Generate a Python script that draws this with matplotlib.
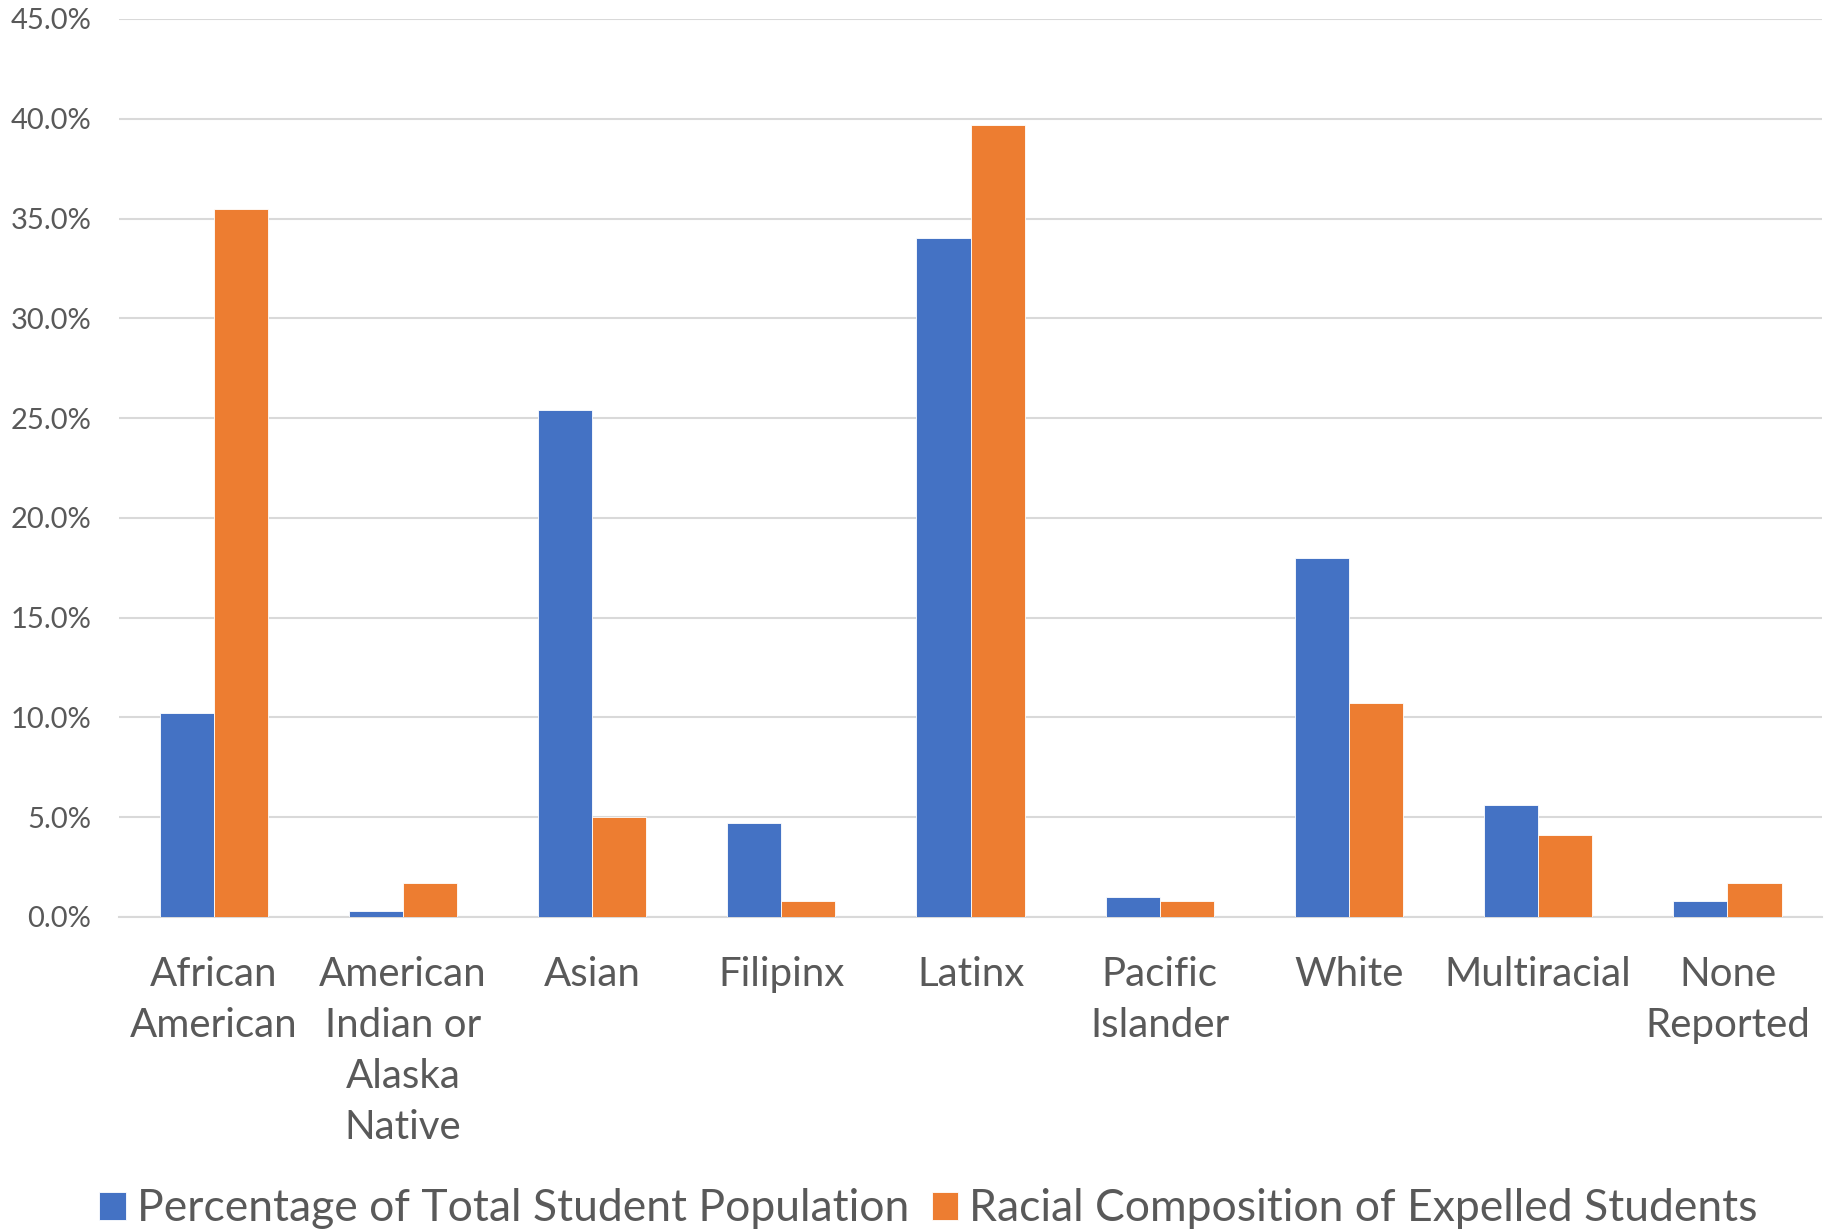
import matplotlib
matplotlib.use("Agg")
import matplotlib.pyplot as plt
import numpy as np
from matplotlib.ticker import FuncFormatter

plt.rcParams['font.family'] = ['Lato', 'DejaVu Sans']

categories = ['African\nAmerican', 'American\nIndian or\nAlaska\nNative', 'Asian', 'Filipinx',
              'Latinx', 'Pacific\nIslander', 'White', 'Multiracial', 'None\nReported']
total_pop = [10.2, 0.3, 25.4, 4.7, 34.0, 1.0, 18.0, 5.6, 0.8]
expelled = [35.5, 1.7, 5.0, 0.8, 39.7, 0.8, 10.7, 4.1, 1.7]
series_names = ['Percentage of Total Student Population', 'Racial Composition of Expelled Students']

blue = '#4472C4'
orange = '#ED7D31'
grey_text = '#595959'

fig = plt.figure(figsize=(18.39, 12.30), dpi=100)
ax = fig.add_axes([0.0647, 0.2545, 0.9261, 0.7301])

x = np.arange(len(categories))
w = 0.2857
ax.bar(x - w/2, total_pop, w, color=blue, edgecolor='white', linewidth=0.6, label=series_names[0], zorder=3)
ax.bar(x + w/2, expelled, w, color=orange, edgecolor='white', linewidth=0.6, label=series_names[1], zorder=3)

ax.set_xlim(-0.5, len(categories) - 0.5)
ax.set_ylim(0, 45)
ax.set_yticks(np.arange(0, 46, 5))
ax.yaxis.set_major_formatter(FuncFormatter(lambda v, p: f'{v:.1f}%'))
ax.set_xticks(x)
ax.set_xticklabels(categories, fontsize=29, color=grey_text, linespacing=1.47)
ax.tick_params(axis='y', labelsize=21, colors=grey_text, length=0, pad=20)
ax.tick_params(axis='x', length=0, pad=28)
ax.grid(axis='y', color='#D9D9D9', linewidth=1.5, zorder=0)
for s in ['top', 'right', 'left']:
    ax.spines[s].set_visible(False)
ax.spines['bottom'].set_color('#D9D9D9')
ax.spines['bottom'].set_linewidth(1.5)

fig.legend(loc='lower center', bbox_to_anchor=(0.505, -0.032), ncol=2, frameon=False,
           fontsize=32, labelcolor=grey_text, handlelength=0.6, handleheight=0.6,
           handletextpad=0.25, columnspacing=0.5)

fig.savefig('out.png', dpi=100)
